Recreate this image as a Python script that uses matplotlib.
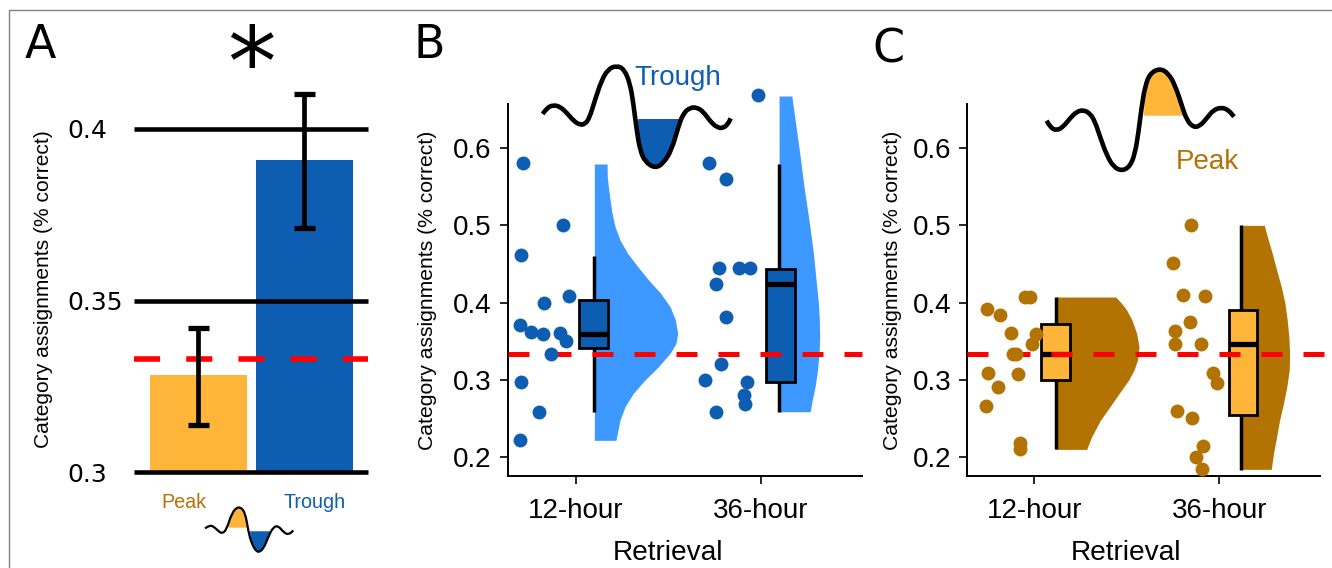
import numpy as np
import matplotlib
matplotlib.use("Agg")
from matplotlib import pyplot as plt
from matplotlib.path import Path
from matplotlib.patches import PathPatch, Rectangle

W, H = 1332, 568
DARK_BLUE = "#0D5EB3"
LIGHT_BLUE = "#3D98FF"
ORANGE = "#FFB43A"
BROWN = "#B37303"
CHANCE = 0.333

# panel A
bar_labels = ["Peak", "Trough"]
bar_means = [0.3283, 0.3911]
bar_low = [0.3136, 0.3711]
bar_high = [0.3421, 0.4103]
a_ticks = [0.3, 0.35, 0.4]
a_tick_labels = ["0.3", "0.35", "0.4"]

# panel B points
b12_x = [-0.287, -0.069, -0.300, -0.171, -0.036, -0.303, -0.245, -0.180, -0.087, -0.052, -0.135, -0.300, -0.202, -0.303]
b12_y = [0.580, 0.501, 0.462, 0.400, 0.408, 0.371, 0.3625, 0.3595, 0.361, 0.350, 0.334, 0.297, 0.259, 0.223]
b36_x = [0.987, 0.722, 0.812, 0.772, 0.883, 0.944, 0.758, 0.812, 0.787, 0.698, 0.924, 0.908, 0.917, 0.756]
b36_y = [0.668, 0.580, 0.560, 0.445, 0.445, 0.445, 0.424, 0.382, 0.321, 0.300, 0.297, 0.281, 0.269, 0.259]

# panel B violins
bv12_y = [0.5793, 0.5629, 0.55, 0.5328, 0.5155, 0.4983, 0.481, 0.4638, 0.4466, 0.4293, 0.4121, 0.3948, 0.3776,
          0.3603, 0.3474, 0.3345, 0.3172, 0.3, 0.2828, 0.2655, 0.2483, 0.222]
bv12_w = [0.069, 0.070, 0.076, 0.085, 0.096, 0.112, 0.139, 0.180, 0.235, 0.294, 0.359, 0.410, 0.439,
          0.451, 0.442, 0.410, 0.347, 0.274, 0.211, 0.166, 0.139, 0.117]
bv36_y = [0.6672, 0.6362, 0.5931, 0.55, 0.5069, 0.4638, 0.4207, 0.3991, 0.3776, 0.356, 0.3345, 0.3129, 0.2914, 0.2741, 0.259]
bv36_w = [0.069, 0.087, 0.112, 0.135, 0.162, 0.186, 0.204, 0.213, 0.218, 0.220, 0.217, 0.208, 0.195, 0.180, 0.168]

# panel B boxes: q1, median, q3, whisker low, whisker high
b12_box = [0.341, 0.360, 0.403, 0.259, 0.461]
b36_box = [0.298, 0.424, 0.444, 0.259, 0.579]

# panel C points
c12_x = [-0.256, -0.186, -0.126, 0.007, -0.011, -0.099, -0.114, -0.050, -0.023, -0.249, -0.198, -0.088, -0.259, -0.076, -0.079]
c12_y = [0.392, 0.3845, 0.361, 0.360, 0.346, 0.334, 0.333, 0.407, 0.407, 0.3086, 0.291, 0.308, 0.267, 0.2185, 0.2108]
c36_x = [0.847, 0.751, 0.802, 0.921, 0.841, 0.760, 0.762, 0.899, 0.968, 0.986, 0.771, 0.854, 0.914, 0.872, 0.908]
c36_y = [0.5004, 0.451, 0.4095, 0.408, 0.3754, 0.363, 0.347, 0.346, 0.3086, 0.296, 0.260, 0.251, 0.2147, 0.2009, 0.185]

# panel C violins
cv12_y = [0.4073, 0.3991, 0.3905, 0.3776, 0.3603, 0.3431, 0.3259, 0.3129, 0.3, 0.2828, 0.2655, 0.2483, 0.2267, 0.2103]
cv12_w = [0.323, 0.355, 0.382, 0.411, 0.436, 0.449, 0.441, 0.422, 0.393, 0.342, 0.292, 0.241, 0.193, 0.166]
cv36_y = [0.5, 0.481, 0.4638, 0.4422, 0.4207, 0.3991, 0.3776, 0.356, 0.3345, 0.3129, 0.2914, 0.2698, 0.2483, 0.2267, 0.2052, 0.1845]
cv36_w = [0.128, 0.150, 0.171, 0.195, 0.220, 0.240, 0.252, 0.261, 0.265, 0.263, 0.250, 0.232, 0.211, 0.195, 0.178, 0.166]

# panel C boxes
c12_box = [0.2996, 0.3336, 0.3724, 0.211, 0.407]
c36_box = [0.2543, 0.3466, 0.391, 0.184, 0.5]

retrieval_labels = ["12-hour", "36-hour"]
rain_ticks = [0.2, 0.3, 0.4, 0.5, 0.6]

# oscillation icons, pixel positions
wave_b = [(428, 282), (440, 264), (460, 255), (480, 260), (500, 278), (520, 302), (540, 315), (555, 312), (568, 295),
          (585, 240), (605, 180), (625, 147), (650, 137), (672, 147), (690, 190), (700, 250), (710, 330), (720, 390),
          (735, 425), (765, 445), (790, 430), (815, 390), (835, 320), (850, 280), (870, 263), (890, 262), (910, 275),
          (930, 303), (950, 322), (970, 325), (985, 310), (992, 295)]
fill_b = [(715, 297), (838, 297), (835, 320), (815, 390), (790, 430), (765, 445), (735, 425), (720, 390), (710, 330)]
wave_c = [(560, 302), (570, 322), (590, 332), (610, 320), (630, 295), (650, 275), (670, 270), (690, 280), (705, 305),
          (720, 350), (740, 405), (760, 440), (785, 453), (810, 440), (825, 400), (835, 340), (845, 260), (855, 200),
          (870, 160), (900, 145), (925, 160), (945, 195), (965, 255), (980, 300), (1000, 322), (1020, 318),
          (1040, 295), (1060, 270), (1085, 262), (1105, 270), (1122, 290)]
fill_c = [(852, 287), (972, 287), (965, 255), (945, 195), (925, 160), (900, 145), (870, 160), (855, 200)]
wave_a = [(615, 1462), (630, 1452), (645, 1460), (665, 1478), (680, 1465), (695, 1420), (715, 1400), (735, 1415),
          (745, 1470), (755, 1505), (772, 1530), (790, 1520), (805, 1485), (820, 1458), (835, 1455), (850, 1472),
          (865, 1480), (880, 1468)]
fill_a_peak = [(685, 1460), (743, 1460), (735, 1415), (715, 1400), (695, 1420)]
fill_a_trough = [(750, 1470), (815, 1470), (805, 1485), (790, 1520), (772, 1530), (755, 1505)]

plt.rcParams["font.family"] = ["Liberation Sans", "DejaVu Sans"]
fig = plt.figure(figsize=(W / 100, H / 100), dpi=100)


def px_axes(left, top, right, bottom):
    return fig.add_axes([left / W, 1 - bottom / H, (right - left) / W, (bottom - top) / H])


def draw_box(ax, box, x0, x1, xw, face):
    q1, med, q3, lo, hi = box
    ax.plot([xw, xw], [lo, hi], color="k", lw=2.5, solid_capstyle="butt", zorder=3)
    ax.add_patch(Rectangle((x0, q1), x1 - x0, q3 - q1, fc=face, ec="k", lw=2, zorder=4))
    ax.plot([x0, x1], [med, med], color="k", lw=3.8, solid_capstyle="butt", zorder=5)


def rain_panel(ax, color, vcolor, sets, label_x, xlabel_x):
    for px, py, vy, vw, base, box, x0, x1, face in sets:
        ax.fill_betweenx(vy, base, base + np.array(vw), color=vcolor, lw=0, zorder=1, clip_on=False)
        draw_box(ax, box, x0, x1, base, face)
        ax.scatter(px, py, s=100, color=color, lw=0, zorder=7, clip_on=False)
    ax.plot(ax.get_xlim(), [CHANCE, CHANCE], color="red", lw=3.6, dashes=(4.2, 4.2), zorder=6,
            clip_on=False, solid_capstyle="butt", dash_capstyle="butt")
    ax.set_xticks([0, 1], retrieval_labels, fontsize=20)
    ax.set_yticks(rain_ticks, [f"{t:.1f}" for t in rain_ticks], fontsize=20)
    ax.set_ylabel("Category assignments (% correct)", fontsize=15.2)
    ax.yaxis.set_label_coords(label_x, 0.5)
    ax.set_xlabel("Retrieval", fontsize=20.2)
    ax.xaxis.set_label_coords(xlabel_x, -0.172)
    ax.spines[["top", "right"]].set_visible(False)
    ax.spines[["left", "bottom"]].set_linewidth(1.4)
    ax.tick_params(axis="x", length=5.5, width=1.2, pad=10.5)
    ax.tick_params(axis="y", length=5.5, width=1.2, pad=6)


# panel A
ax_a = px_axes(134.3, 129, 368.3, 472)
ax_a.set_xlim(-0.604, 1.604)
ax_a.set_ylim(0.3, 0.4)
ax_a.bar([0, 1], bar_means, width=0.915, color=[ORANGE, DARK_BLUE], zorder=1)
for t in a_ticks:
    ax_a.axhline(t, color="k", lw=3.3, clip_on=False, zorder=2, solid_capstyle="butt")
ax_a.plot([-0.604, 1.604], [CHANCE, CHANCE], color="red", lw=4, dashes=(4.7, 4.7), zorder=3,
          clip_on=False, dash_capstyle="butt")
for i in range(2):
    ax_a.plot([i, i], [bar_low[i], bar_high[i]], color="k", lw=3.4, solid_capstyle="butt", clip_on=False, zorder=4)
    for v in (bar_low[i], bar_high[i]):
        ax_a.plot([i - 0.1, i + 0.1], [v, v], color="k", lw=3.8, solid_capstyle="butt", clip_on=False, zorder=4)
ax_a.set_xticks([])
ax_a.set_yticks(a_ticks, a_tick_labels, fontsize=18, family="DejaVu Sans")
ax_a.tick_params(length=0, pad=48.5)
for lab in ax_a.get_yticklabels():
    lab.set_horizontalalignment("left")
ax_a.set_ylabel("Category assignments (% correct)", fontsize=15.1)
ax_a.yaxis.set_label_coords(-0.347, 0.534)
for s in ax_a.spines.values():
    s.set_visible(False)

# panel B
ax_b = px_axes(507.7, 104.3, 862, 476)
ax_b.set_xlim(-0.37, 1.548)
ax_b.set_ylim(0.1759, 0.6565)
rain_panel(ax_b, DARK_BLUE, LIGHT_BLUE, [
    (b12_x, b12_y, bv12_y, bv12_w, 0.099, b12_box, 0.016, 0.173, DARK_BLUE),
    (b36_x, b36_y, bv36_y, bv36_w, 1.099, b36_box, 1.029, 1.188, DARK_BLUE),
], -0.2, 0.4524)

# panel C
ax_c = px_axes(967, 104.3, 1324, 476)
ax_c.set_xlim(-0.364, 1.566)
ax_c.set_ylim(0.1759, 0.6565)
rain_panel(ax_c, BROWN, BROWN, [
    (c12_x, c12_y, cv12_y, cv12_w, 0.117, c12_box, 0.038, 0.193, ORANGE),
    (c36_x, c36_y, cv36_y, cv36_w, 1.115, c36_box, 1.05, 1.205, ORANGE),
], -0.182, 0.4465)
ax_c.spines["bottom"].set_bounds(-0.364, 1.544)

# overlay in pixel space for frame, letters and icons
ov = fig.add_axes([0, 0, 1, 1])
ov.set_xlim(0, W)
ov.set_ylim(H, 0)
ov.axis("off")
ov.patch.set_alpha(0)
ov.plot([8.5, 8.5, W], [H, 10, 10], color="#808080", lw=1)


def smooth(points, ox, oy, sx, sy):
    pts = [(ox + x / sx, oy + y / sy) for x, y in points]
    verts = [pts[0]]
    codes = [Path.MOVETO]
    for a, b in zip(pts[1:-1], pts[2:]):
        verts += [a, ((a[0] + b[0]) / 2, (a[1] + b[1]) / 2)]
        codes += [Path.CURVE3, Path.CURVE3]
    verts.append(pts[-1])
    codes.append(Path.LINETO)
    return Path(verts, codes)


def icon(wave, fills, ox, oy, sx, sy, lw):
    for pts, col in fills:
        ov.fill([ox + x / sx for x, y in pts], [oy + y / sy for x, y in pts], color=col, lw=0)
    ov.add_patch(PathPatch(smooth(wave, ox, oy, sx, sy), fc="none", ec="k", lw=lw, capstyle="butt"))


icon(wave_b, [(fill_b, DARK_BLUE)], 400, 20, 3, 3, 3.3)
icon(wave_c, [(fill_c, ORANGE)], 860, 20, 3, 3, 3.3)
icon(wave_a, [(fill_a_peak, ORANGE), (fill_a_trough, DARK_BLUE)], 0, 0, 3, 2.767, 1.6)

ov.text(40.5, 45, "A", fontsize=33, family="DejaVu Sans", ha="center", va="center")
ov.text(429.5, 46, "B", fontsize=33, family="DejaVu Sans", ha="center", va="center")
ov.text(888, 50, "C", fontsize=33, family="DejaVu Sans", ha="center", va="center")
ov.text(251.5, 70, "*", fontsize=70, family="DejaVu Sans", ha="center", va="center")
ov.text(183.5, 503, bar_labels[0], fontsize=14.2, color=BROWN, ha="center", va="center")
ov.text(314.5, 503, bar_labels[1], fontsize=14.2, color=DARK_BLUE, ha="center", va="center")
ov.text(678, 78, "Trough", fontsize=20, color=DARK_BLUE, ha="center", va="center")
ov.text(1207, 162, "Peak", fontsize=20, color=BROWN, ha="center", va="center")

fig.savefig("out.png", dpi=100)
